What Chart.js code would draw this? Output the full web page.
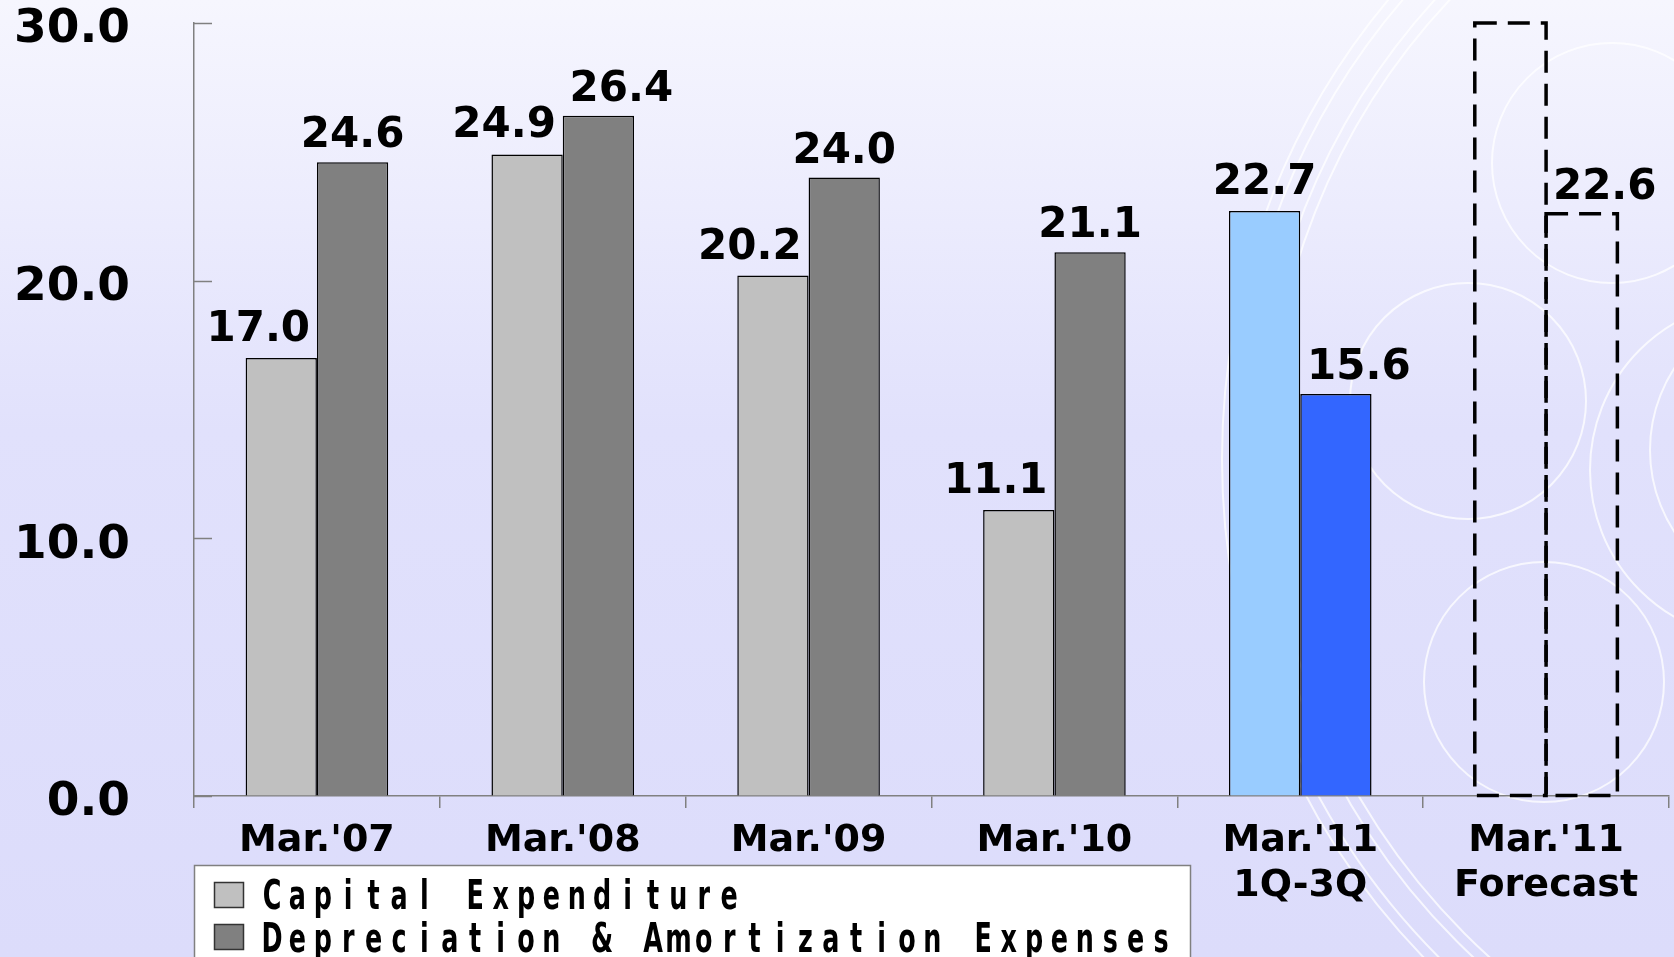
<!DOCTYPE html>
<html>
<head>
<meta charset="utf-8">
<script src="https://cdn.jsdelivr.net/npm/chart.js@4.4.1/dist/chart.umd.min.js"></script>
<style>
html,body{margin:0;padding:0;background:#e2e2fc;}
#wrap{width:1674px;height:957px;position:relative;}
</style>
</head>
<body>
<div id="wrap"><canvas id="c" width="1674" height="957"></canvas></div>
<script>
// ---- data ----
const categories = [["Mar.'07"], ["Mar.'08"], ["Mar.'09"], ["Mar.'10"], ["Mar.'11", "1Q-3Q"], ["Mar.'11", "Forecast"]];
const capexValues = [17.0, 24.9, 20.2, 11.1, 22.7, 30.0];
const depValues = [24.6, 26.4, 24.0, 21.1, 15.6, 22.6];
const capexLabels = ["17.0", "24.9", "20.2", "11.1", "22.7", ""];
const depLabels = ["24.6", "26.4", "24.0", "21.1", "15.6", "22.6"];
const yTickValues = [0, 10, 20, 30];
const seriesNames = ["Capital Expenditure", "Depreciation & Amortization Expenses"];
const forecastIndex = 5;

// ---- styles ----
const capexFill = ['#c0c0c0', '#c0c0c0', '#c0c0c0', '#c0c0c0', '#99ccff', 'rgba(0,0,0,0)'];
const depFill = ['#808080', '#808080', '#808080', '#808080', '#3366ff', 'rgba(0,0,0,0)'];
const borderW = capexValues.map((v, i) => i === forecastIndex ? 0 : 1.5);
const AXIS = '#808080';
const PLOT_LEFT = 194, PLOT_BOTTOM = 796;

const bgPlugin = {
  id: 'bg',
  beforeDraw(chart) {
    const ctx = chart.ctx, W = chart.width, H = chart.height;
    ctx.save();
    const g = ctx.createLinearGradient(0, 0, 0, H);
    g.addColorStop(0, '#f6f6fe');
    g.addColorStop(0.45, '#e1e1fc');
    g.addColorStop(1, '#dcdcfb');
    ctx.fillStyle = g;
    ctx.fillRect(0, 0, W, H);
    ctx.strokeStyle = 'rgba(255,255,255,0.75)';
    ctx.lineWidth = 2;
    const circles = [
      [1939, 459, 717], [1939, 459, 706], [1939, 459, 682], [1939, 459, 671],
      [1612, 163, 120], [1468, 401, 118], [1544, 682, 120], [1800, 450, 150], [1760, 470, 170]
    ];
    circles.forEach(([x, y, r]) => { ctx.beginPath(); ctx.arc(x, y, r, 0, Math.PI * 2); ctx.stroke(); });
    ctx.restore();
  }
};

const overlayPlugin = {
  id: 'overlay',
  afterDatasetsDraw(chart) {
    const ctx = chart.ctx;
    ctx.save();
    // dashed forecast bars
    chart.data.datasets.forEach((ds, di) => {
      const el = chart.getDatasetMeta(di).data[forecastIndex];
      const p = el.getProps(['x', 'y', 'base', 'width'], true);
      ctx.strokeStyle = '#000';
      ctx.lineWidth = 3.5;
      ctx.setLineDash([22, 11]);
      ctx.strokeRect(p.x - p.width / 2, p.y, p.width, p.base - p.y);
    });
    ctx.setLineDash([]);
    // value labels
    ctx.fillStyle = '#000';
    ctx.font = 'bold 42px "DejaVu Sans"';
    ctx.textAlign = 'center';
    ctx.textBaseline = 'alphabetic';
    const m0 = chart.getDatasetMeta(0).data, m1 = chart.getDatasetMeta(1).data;
    capexValues.forEach((v, i) => {
      const dx = depValues[i] > v ? -23 : 0;
      if (capexLabels[i]) ctx.fillText(capexLabels[i], m0[i].x + dx, m0[i].y - 17);
    });
    depValues.forEach((v, i) => {
      const dx = capexValues[i] >= v - 2 ? 23 : 0;
      if (depLabels[i]) ctx.fillText(depLabels[i], m1[i].x + dx, m1[i].y - 15);
    });
    // inward y ticks
    const ys = chart.scales.y;
    ctx.strokeStyle = AXIS;
    ctx.lineWidth = 1.5;
    yTickValues.forEach(t => {
      const y = Math.round(ys.getPixelForValue(t)) + 0.5;
      ctx.beginPath(); ctx.moveTo(ys.right, y); ctx.lineTo(ys.right + 18, y); ctx.stroke();
    });
    ctx.restore();
  },
  afterDraw(chart) {
    const ctx = chart.ctx;
    ctx.save();
    ctx.fillStyle = '#ffffff';
    ctx.fillRect(194, 865, 996, 110);
    ctx.strokeStyle = AXIS;
    ctx.lineWidth = 1.5;
    ctx.strokeRect(194.5, 865.5, 996, 110);
    const fills = ['#c0c0c0', '#808080'];
    const rows = [{ sy: 882, by: 909 }, { sy: 924, by: 952 }];
    ctx.font = 'bold 41px "DejaVu Sans"';
    ctx.textAlign = 'center';
    ctx.textBaseline = 'alphabetic';
    seriesNames.forEach((name, i) => {
      ctx.fillStyle = fills[i];
      ctx.fillRect(214, rows[i].sy, 30, 26);
      ctx.strokeStyle = '#333';
      ctx.lineWidth = 1.5;
      ctx.strokeRect(214.5, rows[i].sy + 0.5, 29, 25);
      ctx.fillStyle = '#000';
      for (let k = 0; k < name.length; k++) {
        const cx = 272 + k * 25.4;
        ctx.save();
        ctx.translate(cx, rows[i].by);
        ctx.scale(0.62, 1);
        ctx.fillText(name[k], 0, 0);
        ctx.restore();
      }
    });
    ctx.restore();
  }
};

new Chart(document.getElementById('c'), {
  type: 'bar',
  data: {
    labels: categories,
    datasets: [
      { label: seriesNames[0], data: capexValues, backgroundColor: capexFill, borderColor: '#000', borderWidth: borderW },
      { label: seriesNames[1], data: depValues, backgroundColor: depFill, borderColor: '#000', borderWidth: borderW }
    ]
  },
  options: {
    responsive: false,
    animation: false,
    events: [],
    layout: { padding: { left: 0, top: 23, right: 5, bottom: 0 } },
    datasets: { bar: { categoryPercentage: 0.58, barPercentage: 1.0 } },
    plugins: { legend: { display: false }, tooltip: { enabled: false } },
    scales: {
      x: {
        offset: true,
        grid: { display: true, offset: true, drawOnChartArea: false, drawTicks: true, tickLength: 12, color: AXIS, lineWidth: 1.5 },
        border: { display: true, color: AXIS, width: 1.5 },
        ticks: { color: '#000', font: { family: 'DejaVu Sans', weight: 'bold', size: 38, lineHeight: 1.18 }, padding: 11, maxRotation: 0, autoSkip: false },
        afterFit(s) { s.height = 957 - PLOT_BOTTOM; s.paddingLeft = 0; s.paddingRight = 0; }
      },
      y: {
        min: 0, max: 30,
        grid: { display: true, drawOnChartArea: false, drawTicks: false, color: AXIS },
        border: { display: true, color: AXIS, width: 1.5 },
        ticks: { stepSize: 10, padding: 64, labelOffset: 7, color: '#000', font: { family: 'DejaVu Sans', weight: 'bold', size: 47 }, callback: v => Number(v).toFixed(1) },
        afterBuildTicks(s) { s.ticks = yTickValues.map(v => ({ value: v })); },
        afterFit(s) { s.width = PLOT_LEFT; s.paddingTop = 0; s.paddingBottom = 0; }
      }
    }
  },
  plugins: [bgPlugin, overlayPlugin]
});
</script>
</body>
</html>
